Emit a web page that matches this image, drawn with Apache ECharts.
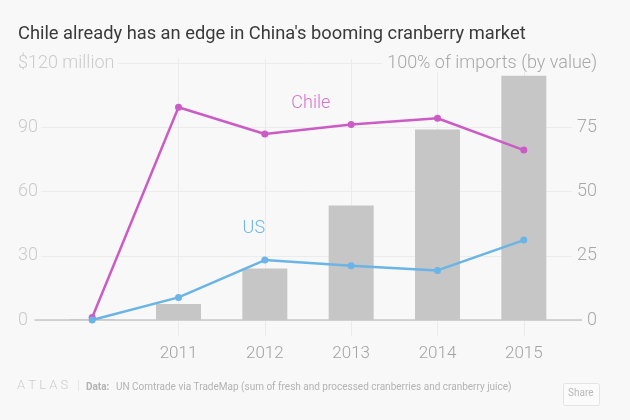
<!DOCTYPE html>
<html>
<head>
<meta charset="utf-8">
<script src="https://cdn.jsdelivr.net/npm/echarts@6/dist/echarts.min.js"></script>
<style>
html,body{margin:0;padding:0;background:#f8f8f8;}
#chart{width:630px;height:420px;}
</style>
</head>
<body>
<div id="chart"></div>
<script>
// ---- data ----
const years = ['2010', '2011', '2012', '2013', '2014', '2015'];
const importValue = [0.4, 7.5, 24, 53.5, 89, 114];       // $ million (bars, left axis)
const chileShare = [1, 82.8, 72.4, 76.1, 78.5, 66.1];     // % of imports (right axis)
const usShare = [0, 8.8, 23.3, 21.1, 19.3, 31.1];         // % of imports (right axis)
const leftTicks = [0, 30, 60, 90, 120];
const rightTicks = [0, 25, 50, 75, 100];
const leftTopLabel = '$120 million';
const rightTopLabel = '100% of imports (by value)';

// ---- layout ----
const FONT = 'Roboto, "Liberation Sans", sans-serif';
const BG = '#f8f8f8';
const plotTop = 63, plotBase = 320;      // y of top gridline / zero baseline
const dataTop = 59, dataBottom = 336;    // vertical year lines extent
const leftMax = leftTicks[leftTicks.length - 1];
const rightMax = rightTicks[rightTicks.length - 1];
const pxL = (plotBase - plotTop) / leftMax;
const pxR = (plotBase - plotTop) / rightMax;

const chart = echarts.init(document.getElementById('chart'), null, {renderer: 'canvas'});
chart.setOption({
  backgroundColor: BG,
  animation: false,
  title: {
    text: "Chile already has an edge in China's booming cranberry market",
    left: 13, top: 20,
    textStyle: {fontFamily: FONT, fontSize: 18.3, fontWeight: 'normal', color: '#3a3a3a'}
  },
  grid: [
    {left: 35, right: 48, top: plotTop, bottom: 420 - plotBase},
    {left: 49, right: 63, top: dataTop, bottom: 420 - dataBottom}
  ],
  xAxis: [
    {gridIndex: 0, type: 'value', min: 0, max: 1,
     axisLine: {show: true, lineStyle: {color: '#c8c8c8', width: 1.5}},
     axisTick: {show: false}, axisLabel: {show: false}, splitLine: {show: false}},
    {gridIndex: 1, type: 'category', data: years, boundaryGap: true,
     axisLine: {show: false}, axisTick: {show: false},
     axisLabel: {color: '#a3a3a3', fontFamily: FONT, fontWeight: 300, fontSize: 17, margin: 9,
       formatter: (v, i) => i === 0 ? '' : v},
     splitLine: {show: true, alignWithLabel: true, interval: (i) => i > 0,
       lineStyle: {color: '#ebebeb', width: 1}}}
  ],
  yAxis: [
    {gridIndex: 0, type: 'value', min: 0, max: leftMax, interval: 30, position: 'left',
     axisLine: {show: false}, axisTick: {show: false},
     axisLabel: {align: 'left', margin: 17, color: '#cbcbcb', fontFamily: FONT, fontWeight: 300, fontSize: 18,
       backgroundColor: BG, padding: [0, 3, 0, 0],
       formatter: v => v === leftMax ? leftTopLabel : String(v)},
     splitLine: {show: true, lineStyle: {color: '#ececec', width: 1}}},
    {gridIndex: 0, type: 'value', min: 0, max: rightMax, interval: 25, position: 'right',
     axisLine: {show: false}, axisTick: {show: false},
     axisLabel: {align: 'right', margin: 15, color: '#a8a8a8', fontFamily: FONT, fontWeight: 300, fontSize: 18,
       backgroundColor: BG, padding: [0, 0, 0, 5],
       formatter: v => v === rightMax ? rightTopLabel : String(v)},
     splitLine: {show: false}},
    {gridIndex: 1, type: 'value', show: false,
     min: -(dataBottom - plotBase) / pxL, max: leftMax + (plotTop - dataTop) / pxL,
     splitLine: {show: false}},
    {gridIndex: 1, type: 'value', show: false,
     min: -(dataBottom - plotBase) / pxR, max: rightMax + (plotTop - dataTop) / pxR,
     splitLine: {show: false}}
  ],
  series: [
    {name: 'Imports', type: 'bar', xAxisIndex: 1, yAxisIndex: 2, data: importValue,
     barWidth: 45, itemStyle: {color: '#c6c6c6'}, z: 2},
    {name: 'Chile', type: 'line', xAxisIndex: 1, yAxisIndex: 3,
     data: chileShare.map((v, i) => i === 2 ? {value: v, label: {show: true, formatter: 'Chile',
       position: 'inside', offset: [46, -30], color: '#d672cf', fontFamily: FONT, fontSize: 18, fontWeight: 300}} : v),
     symbol: 'circle', symbolSize: 7, lineStyle: {color: '#cc5cc5', width: 2.5},
     itemStyle: {color: '#cc5cc5'}, z: 4},
    {name: 'US', type: 'line', xAxisIndex: 1, yAxisIndex: 3,
     data: usShare.map((v, i) => i === 2 ? {value: v, label: {show: true, formatter: 'US',
       position: 'inside', offset: [-11, -32], color: '#6fb5e6', fontFamily: FONT, fontSize: 18, fontWeight: 300}} : v),
     symbol: 'circle', symbolSize: 7, lineStyle: {color: '#6ab4e6', width: 2.5},
     itemStyle: {color: '#6ab4e6'}, z: 4}
  ],
  graphic: [
    {type: 'text', left: 17, top: 379,
     style: {text: 'A T L A S', fill: '#cdcdcd', font: '300 13px ' + FONT}},
    {type: 'text', left: 77, top: 379,
     style: {text: '|', fill: '#dddddd', font: '300 13px ' + FONT}},
    {type: 'text', left: 86, top: 382,
     style: {text: 'Data:', fill: '#b3b3b3', font: 'bold 10px ' + FONT}},
    {type: 'text', left: 116, top: 382,
     style: {text: 'UN Comtrade via TradeMap (sum of fresh and processed cranberries and cranberry juice)', fill: '#b3b3b3', font: '10px ' + FONT}},
    {type: 'rect', left: 563, top: 383, shape: {width: 36, height: 22, r: 2},
     style: {fill: '#fbfbfb', stroke: '#e4e4e4', lineWidth: 1}},
    {type: 'text', left: 568, top: 388,
     style: {text: 'Share', fill: '#b8b8b8', font: '10px ' + FONT}}
  ]
});
</script>
</body>
</html>
